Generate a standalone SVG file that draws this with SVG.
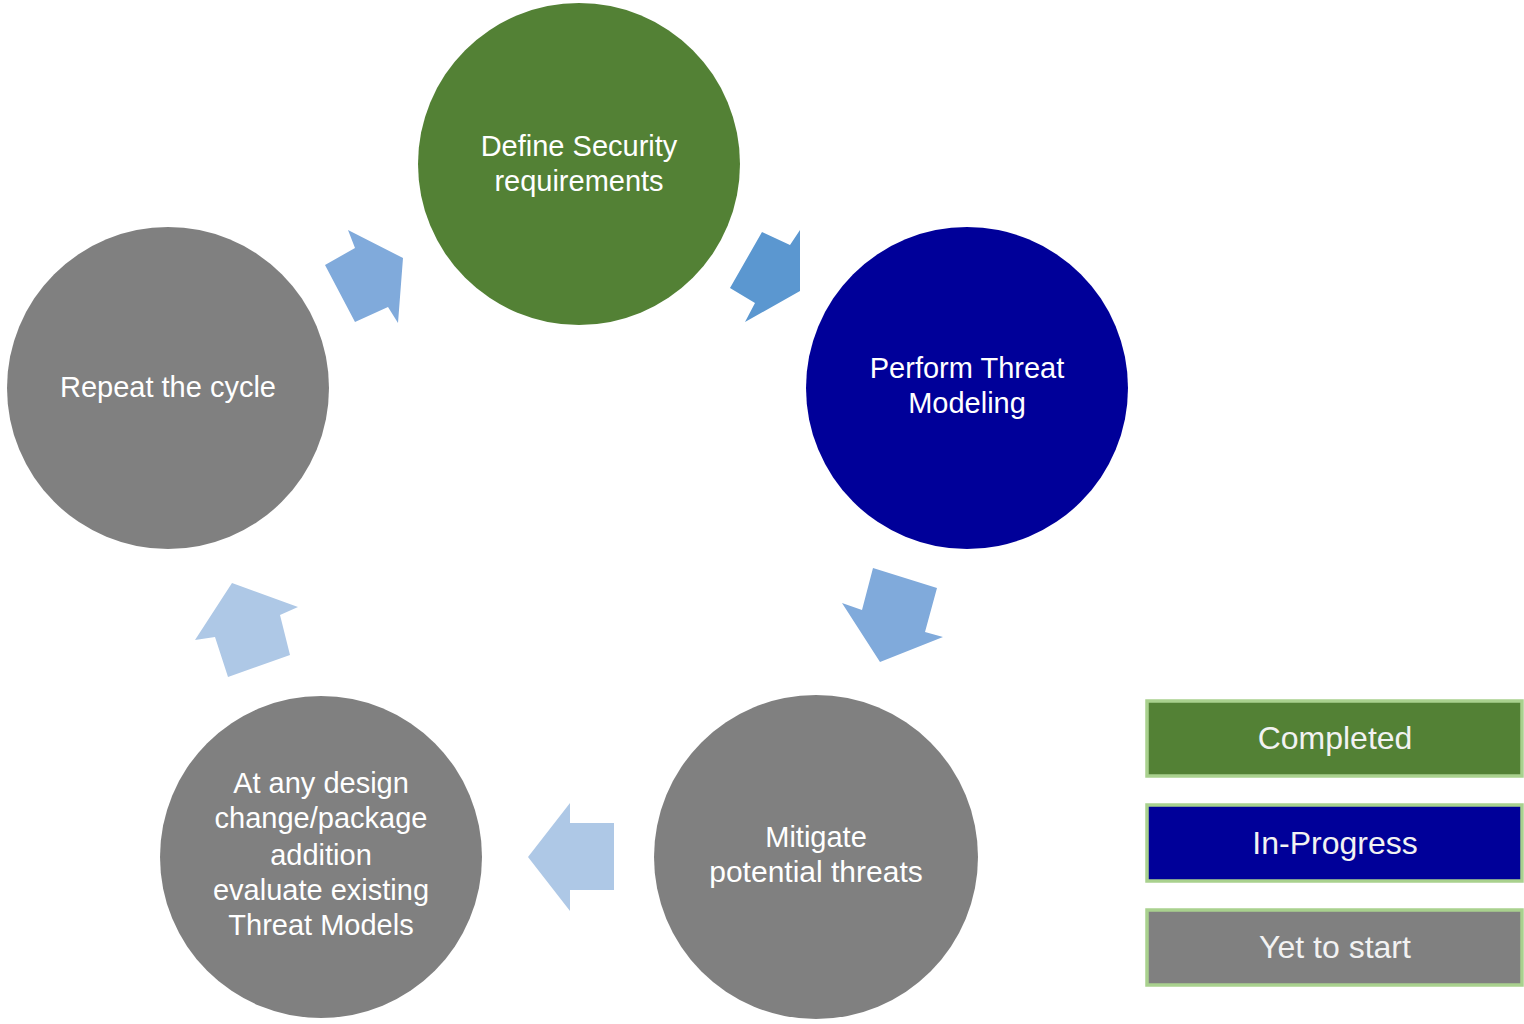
<svg xmlns="http://www.w3.org/2000/svg" width="1524" height="1024" viewBox="0 0 1524 1024">
<style>
.lbl{font-family:"Liberation Sans",Arial,sans-serif;font-size:29px;fill:#ffffff;text-anchor:middle}
.leg{font-family:"Liberation Sans",Arial,sans-serif;font-size:32px;fill:#f2f2f2;text-anchor:middle}
.green{fill:#538135}
.blue{fill:#000099}
.gray{fill:#808080}
.box{stroke:#a9d18e;stroke-width:3.5}
.a-dark{fill:#5b97d0}
.a-mid{fill:#80aadb}
.a-light{fill:#aec8e6}
</style>
<rect width="1524" height="1024" fill="#ffffff"/>
<g id="connectors">
<polygon id="arrow-repeat-define" class="a-mid" points="403,258 398,323 388,307 355,322 325,265 355,248 348,230"/>
<polygon id="arrow-define-perform" class="a-dark" points="800,230 790,245 762,232 730,288 755,303 745,322 800,291"/>
<polygon id="arrow-perform-mitigate" class="a-mid" points="873,568 937,588 925,632 943,637 880,662 842,603 862,610"/>
<polygon id="arrow-mitigate-design" class="a-light" points="528,857 570,803 570,823 614,823 614,890 570,890 570,911"/>
<polygon id="arrow-design-repeat" class="a-light" points="232,583 298,607 280,615 290,655 228,677 215,637 195,640"/>
</g>
<g id="node-define">
<circle class="green" cx="579" cy="164" r="161"/>
<text class="lbl" x="579" y="156">Define Security</text>
<text class="lbl" x="579" y="191">requirements</text>
</g>
<g id="node-perform">
<circle class="blue" cx="967" cy="388" r="161"/>
<text class="lbl" x="967" y="378">Perform Threat</text>
<text class="lbl" x="967" y="413">Modeling</text>
</g>
<g id="node-mitigate">
<circle class="gray" cx="816" cy="857" r="162"/>
<text class="lbl" x="816" y="847">Mitigate</text>
<text class="lbl" x="816" y="882" style="font-size:30px">potential threats</text>
</g>
<g id="node-design">
<circle class="gray" cx="321" cy="857" r="161"/>
<text class="lbl" x="321" y="793">At any design</text>
<text class="lbl" x="321" y="828">change/package</text>
<text class="lbl" x="321" y="865">addition</text>
<text class="lbl" x="321" y="900">evaluate existing</text>
<text class="lbl" x="321" y="935">Threat Models</text>
</g>
<g id="node-repeat">
<circle class="gray" cx="168" cy="388" r="161"/>
<text class="lbl" x="168" y="397">Repeat the cycle</text>
</g>
<g id="legend-completed">
<rect class="green box" x="1147" y="701" width="375" height="75"/>
<text class="leg" x="1335" y="749">Completed</text>
</g>
<g id="legend-inprogress">
<rect class="blue box" x="1147" y="805" width="375" height="76"/>
<text class="leg" x="1335" y="854">In-Progress</text>
</g>
<g id="legend-yet">
<rect class="gray box" x="1147" y="910" width="375" height="75"/>
<text class="leg" x="1335" y="958">Yet to start</text>
</g>
</svg>
